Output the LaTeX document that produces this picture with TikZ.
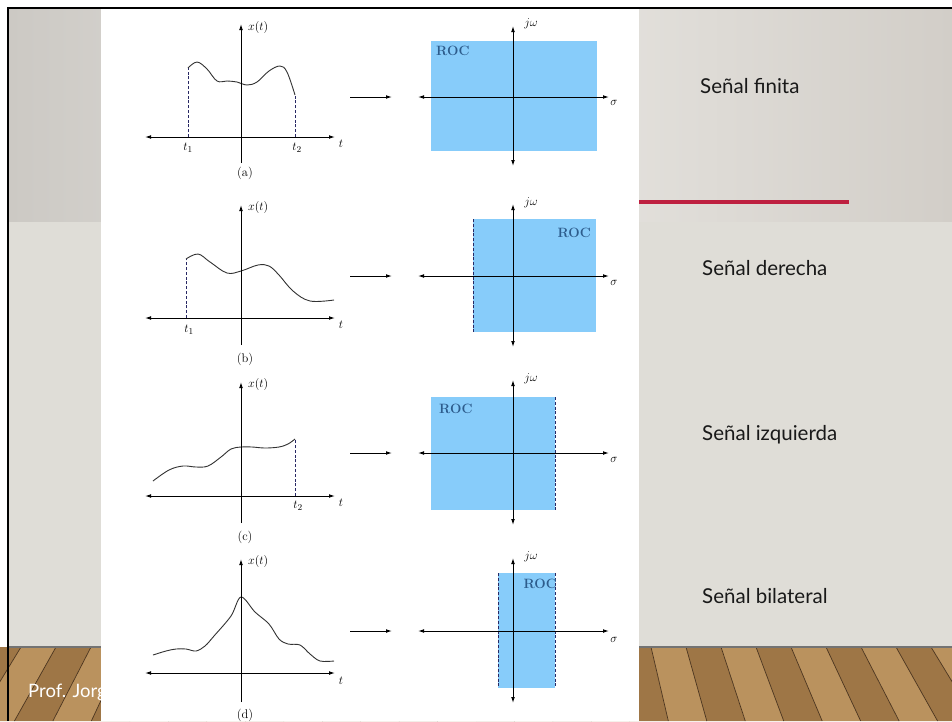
\documentclass[tikz,border=0pt]{standalone}
\usepackage{fontspec}
\newfontfamily\slidefont{Lato}
\usetikzlibrary{arrows.meta}
\definecolor{bandL}{RGB}{204,201,196}
\definecolor{bandM}{RGB}{233,231,227}
\definecolor{bandR}{RGB}{210,206,200}
\definecolor{bodycol}{RGB}{223,221,215}
\definecolor{redline}{RGB}{190,32,64}
\definecolor{woodA}{RGB}{186,146,94}
\definecolor{woodB}{RGB}{158,118,70}
\definecolor{woodline}{RGB}{75,52,30}
\definecolor{rocblue}{RGB}{135,204,250}
\definecolor{roctext}{RGB}{45,92,140}
\definecolor{dashcol}{RGB}{40,40,100}
\definecolor{curvecol}{RGB}{50,50,50}
\tikzset{
  tip/.tip={Latex[length=6pt,width=3.8pt]},
  axisboth/.style={line width=1pt, black, tip-tip},
  axisup/.style={line width=1pt, black, -tip},
  flowarrow/.style={line width=1pt, black, -tip},
  roc/.style={fill=rocblue, draw=none},
  rocdash/.style={dash pattern=on 3pt off 1.8pt, line width=0.8pt, dashcol},
  sig/.style={line width=0.9pt, curvecol},
  lab/.style={font=\fontsize{12.5}{14}\selectfont, inner sep=0pt},
  roclab/.style={font=\fontsize{13.5}{15}\selectfont\bfseries, text=roctext, inner sep=0pt},
  slidetxt/.style={font=\slidefont\fontsize{20.5}{24}\selectfont, anchor=base west, inner sep=0pt, text=black!90},
  foottxt/.style={font=\slidefont\fontsize{18.5}{22}\selectfont, anchor=base west, inner sep=0pt, text=white},
}
\begin{document}
\begin{tikzpicture}[x=1pt,y=-1pt]
\useasboundingbox (0,0) rectangle (952,721);
% slide background
\fill[white] (0,0) rectangle (952,721);
\fill[bodycol] (9,9) rectangle (952,721);
\shade[left color=bandL, right color=bandR, middle color=bandM] (9,9) rectangle (952,221);
% red rule
\fill[redline] (639,200) rectangle (849,204);
% wood floor
\foreach \k in {-14,...,13}{
  \pgfmathsetmacro{\xa}{476+35*\k}
  \pgfmathsetmacro{\xb}{476+35*(\k+1)}
  \pgfmathsetmacro{\xc}{476+(\xa-476)*1.099}
  \pgfmathsetmacro{\xd}{476+(\xb-476)*1.099}
  \pgfmathsetmacro{\sh}{isodd(\k) ? 1 : 0}
  \ifdim\sh pt>0.5pt
    \fill[woodA] (\xa,647) -- (\xb,647) -- (\xd,721) -- (\xc,721) -- cycle;
  \else
    \fill[woodB] (\xa,647) -- (\xb,647) -- (\xd,721) -- (\xc,721) -- cycle;
  \fi
  \draw[woodline, line width=0.7pt] (\xa,647) -- (\xc,721);
}
\fill[black!55] (9,645.5) rectangle (952,648);
% footer text
\node[foottxt] (prof) at (28,697) {Prof. Jorg};
% border
\fill[black] (7,7) rectangle (952,9);
\fill[black] (7,7) rectangle (9,721);
% white panel with the figure
\fill[white] (101,9) rectangle (639,721);

% ---------------- row (a)
\coordinate (aL) at (145,137); \coordinate (aR) at (335,137);
\coordinate (aB) at (241,163); \coordinate (aT) at (241,24);
\draw[rocdash] (188,137) -- (188,68);
\draw[rocdash] (295,137) -- (295,95);
\draw[sig] plot[smooth, tension=0.6] coordinates {(188,68) (197,62) (207,69) (217,81) (227,81) (237,82) (247,85) (257,82) (269,71) (280,66) (287,72) (295,95)};
\draw[axisboth] (aL) -- (aR);
\draw[axisup] (aB) -- (aT);
\node[lab, anchor=west] (axt) at (248,27) {$x(t)$};
\node[lab] (at) at (341,144) {$t$};
\node[lab] (at1) at (188,148) {$t_1$};
\node[lab] (at2) at (297,148) {$t_2$};
\node[lab] (acap) at (245,173) {(a)};
\coordinate (afs) at (350,97); \coordinate (afe) at (392,97);
\draw[flowarrow] (afs) -- (afe);
\fill[roc] (431,41) rectangle (597,151);
\node[roclab, anchor=west] (aroc) at (436,51) {ROC};
\coordinate (asL) at (418,97); \coordinate (asR) at (609,97);
\coordinate (asT) at (513,26); \coordinate (asB) at (513,166);
\draw[axisboth] (asL) -- (asR);
\draw[axisboth] (asB) -- (asT);
\node[lab] (ajw) at (531,24) {$j\omega$};
\node[lab] (asig) at (614,103) {$\sigma$};

% ---------------- row (b)
\coordinate (bL) at (145,318); \coordinate (bR) at (335,318);
\coordinate (bB) at (241,345); \coordinate (bT) at (241,205);
\draw[rocdash] (186,318) -- (186,259);
\draw[sig] plot[smooth, tension=0.6] coordinates {(186,259) (198,254) (210,262) (227,273) (241,271) (258,265) (269,266) (279,275) (293,291) (310,301) (334,300)};
\draw[axisboth] (bL) -- (bR);
\draw[axisup] (bB) -- (bT);
\node[lab, anchor=west] (bxt) at (248,207) {$x(t)$};
\node[lab] (bt) at (341,325) {$t$};
\node[lab] (bt1) at (189,330) {$t_1$};
\node[lab] (bcap) at (245,359) {(b)};
\coordinate (bfs) at (350,276); \coordinate (bfe) at (392,276);
\draw[flowarrow] (bfs) -- (bfe);
\fill[roc] (473,219) rectangle (596,332);
\draw[rocdash] (473,219) -- (473,332);
\node[roclab, anchor=east] (broc) at (591,233) {ROC};
\coordinate (bsL) at (418,276); \coordinate (bsR) at (609,276);
\coordinate (bsT) at (513,204); \coordinate (bsB) at (513,347);
\draw[axisboth] (bsL) -- (bsR);
\draw[axisboth] (bsB) -- (bsT);
\node[lab] (bjw) at (531,203) {$j\omega$};
\node[lab] (bsig) at (614,283) {$\sigma$};

% ---------------- row (c)
\coordinate (cL) at (145,496); \coordinate (cR) at (335,496);
\coordinate (cB) at (241,523); \coordinate (cT) at (241,382);
\draw[rocdash] (295,496) -- (295,439);
\draw[sig] plot[smooth, tension=0.6] coordinates {(153,481) (169,470) (183,466) (196,467) (208,466) (221,457) (231,449) (241,447) (252,447) (265,448) (279,447) (288,444) (295,439)};
\draw[axisboth] (cL) -- (cR);
\draw[axisup] (cB) -- (cT);
\node[lab, anchor=west] (cxt) at (248,384) {$x(t)$};
\node[lab] (ct) at (341,503) {$t$};
\node[lab] (ct2) at (298,506) {$t_2$};
\node[lab] (ccap) at (245,537) {(c)};
\coordinate (cfs) at (350,453); \coordinate (cfe) at (392,453);
\draw[flowarrow] (cfs) -- (cfe);
\fill[roc] (431,397) rectangle (555,510);
\draw[rocdash] (555,397) -- (555,510);
\node[roclab, anchor=west] (croc) at (439,409) {ROC};
\coordinate (csL) at (418,453); \coordinate (csR) at (609,453);
\coordinate (csT) at (513,380); \coordinate (csB) at (513,525);
\draw[axisboth] (csL) -- (csR);
\draw[axisboth] (csB) -- (csT);
\node[lab] (cjw) at (531,379) {$j\omega$};
\node[lab] (csig) at (614,460) {$\sigma$};

% ---------------- row (d)
\coordinate (dL) at (145,673); \coordinate (dR) at (335,673);
\coordinate (dB) at (241,702); \coordinate (dT) at (241,559);
\draw[sig] plot[smooth, tension=0.55] coordinates {(153,655) (166,651) (176,649) (186,649) (196,651) (205,646) (214,636) (231,616) (241,597) (255,612) (269,624) (279,639) (288,644) (300,645) (310,654) (320,661) (334,661)};
\draw[axisboth] (dL) -- (dR);
\draw[axisup] (dB) -- (dT);
\node[lab, anchor=west] (dxt) at (248,561) {$x(t)$};
\node[lab] (dt) at (341,681) {$t$};
\node[lab] (dcap) at (245,715) {(d)};
\coordinate (dfs) at (350,631); \coordinate (dfe) at (392,631);
\draw[flowarrow] (dfs) -- (dfe);
\fill[roc] (498,573) rectangle (555,688);
\draw[rocdash] (498,573) -- (498,688);
\draw[rocdash] (555,573) -- (555,688);
\node[roclab, anchor=east] (droc) at (557,584) {ROC};
\coordinate (dsL) at (418,631); \coordinate (dsR) at (609,631);
\coordinate (dsT) at (513,558); \coordinate (dsB) at (513,703);
\draw[axisboth] (dsL) -- (dsR);
\draw[axisboth] (dsB) -- (dsT);
\node[lab] (djw) at (531,557) {$j\omega$};
\node[lab] (dsig) at (614,640) {$\sigma$};

% ---------------- slide texts
\node[slidetxt] (fin) at (700,93) {Señal finita};
\node[slidetxt] (der) at (702,275) {Señal derecha};
\node[slidetxt] (izq) at (702,440) {Señal izquierda};
\node[slidetxt] (bil) at (702,603) {Señal bilateral};
\end{tikzpicture}
\end{document}
